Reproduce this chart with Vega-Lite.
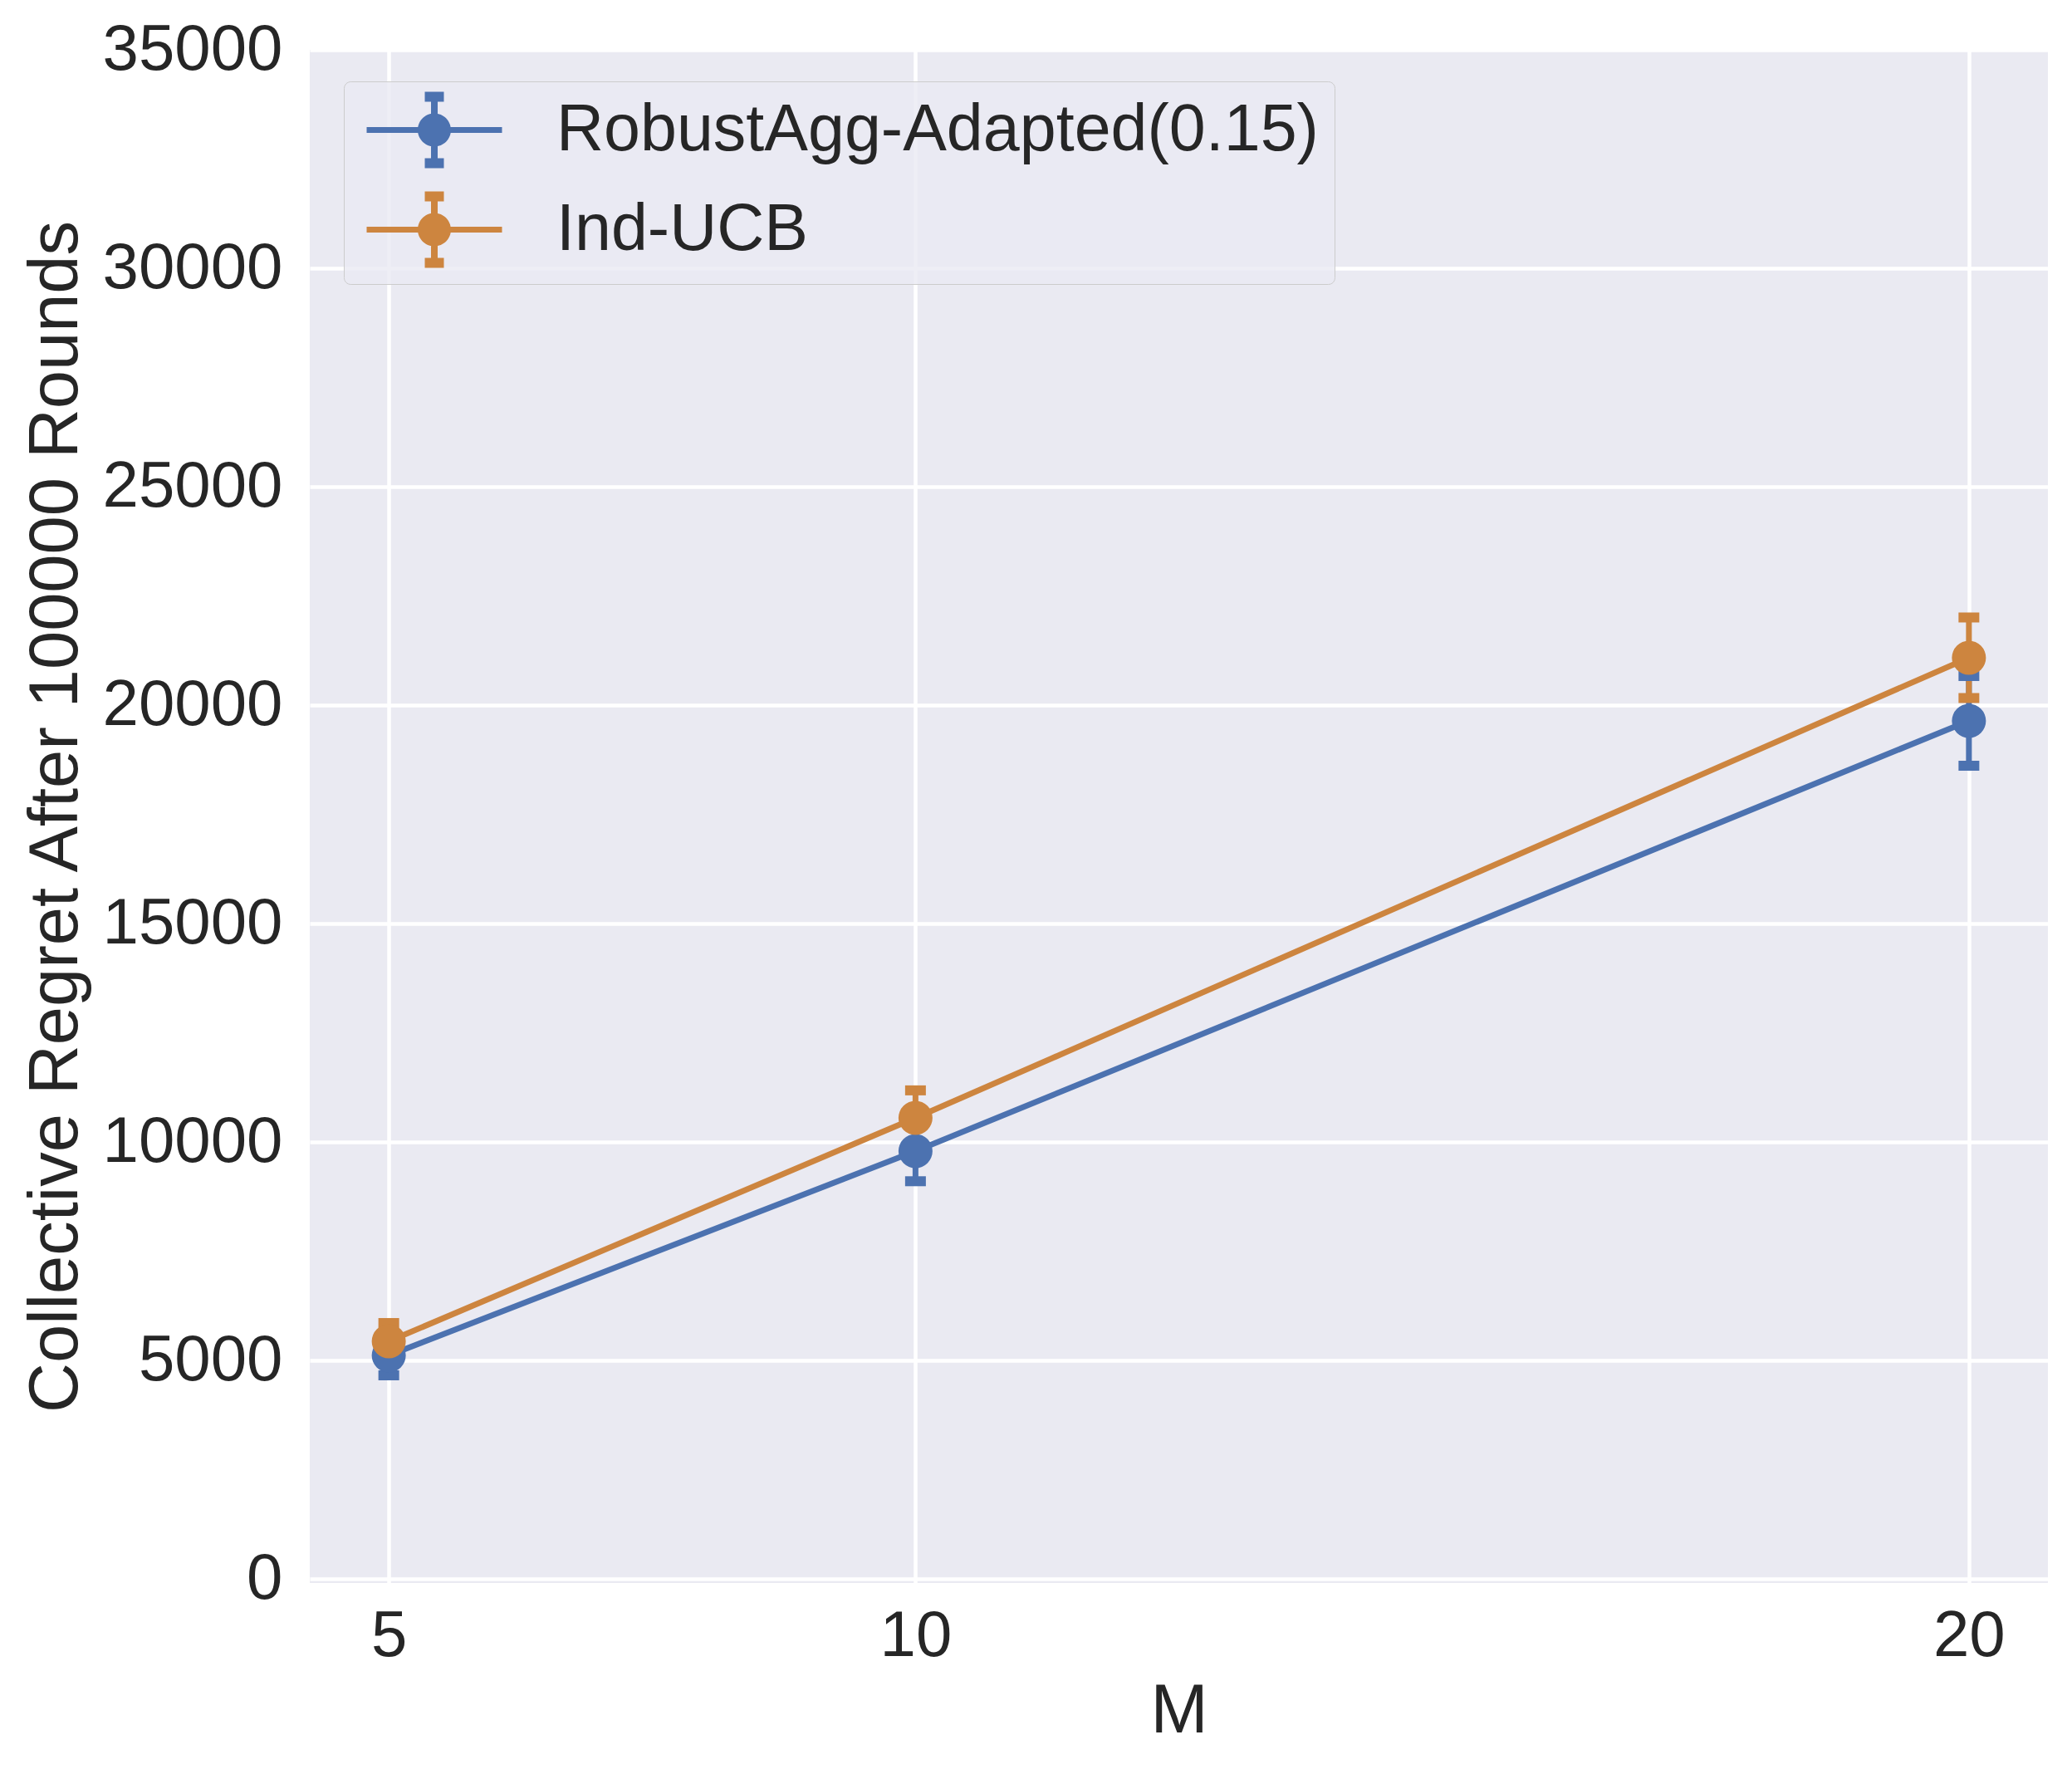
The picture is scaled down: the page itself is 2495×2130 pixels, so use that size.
{
  "$schema": "https://vega.github.io/schema/vega-lite/v6.json",
  "width": 2093,
  "height": 1846,
  "autosize": {"type": "none"},
  "padding": {"left": 373, "top": 60, "right": 29, "bottom": 224},
  "background": "#ffffff",
  "config": {
    "font": "Liberation Sans",
    "view": {"fill": "#eaeaf2", "stroke": null},
    "axis": {
      "domain": false,
      "ticks": false,
      "tickSize": 0,
      "grid": true,
      "gridColor": "#ffffff",
      "gridWidth": 4.5,
      "gridOpacity": 1,
      "labelFont": "Liberation Sans",
      "labelFontSize": 78,
      "labelColor": "#262626",
      "labelLimit": 2000,
      "titleFont": "Liberation Sans",
      "titleFontSize": 83,
      "titleFontWeight": "normal",
      "titleColor": "#262626",
      "titleLimit": 5000
    }
  },
  "data": {
    "values": [
      {"M": 5, "method": "RobustAgg-Adapted(0.15)", "regret": 5114, "lo": 4658, "hi": 5570},
      {"M": 10, "method": "RobustAgg-Adapted(0.15)", "regret": 9791, "lo": 9101, "hi": 10481},
      {"M": 20, "method": "RobustAgg-Adapted(0.15)", "regret": 19639, "lo": 18612, "hi": 20666},
      {"M": 5, "method": "Ind-UCB", "regret": 5437, "lo": 5019, "hi": 5855},
      {"M": 10, "method": "Ind-UCB", "regret": 10551, "lo": 9921, "hi": 11181},
      {"M": 20, "method": "Ind-UCB", "regret": 21084, "lo": 20162, "hi": 22006}
    ]
  },
  "encoding": {
    "x": {
      "field": "M",
      "type": "quantitative",
      "scale": {"domain": [4.25, 20.75], "nice": false, "zero": false},
      "axis": {"values": [5, 10, 20], "title": "M", "labelPadding": 25, "titlePadding": 10, "labelFlush": false}
    },
    "color": {
      "field": "method",
      "type": "nominal",
      "sort": ["RobustAgg-Adapted(0.15)", "Ind-UCB"],
      "scale": {"domain": ["RobustAgg-Adapted(0.15)", "Ind-UCB"], "range": ["#4c72b0", "#cd853f"]},
      "legend": {
        "title": null,
        "orient": "none",
        "legendX": 41,
        "legendY": 38,
        "fillColor": "rgba(234,234,242,0.8)",
        "strokeColor": "#cccccc",
        "cornerRadius": 8,
        "padding": 19,
        "rowPadding": 27,
        "labelFont": "Liberation Sans",
        "labelFontSize": 79,
        "labelColor": "#262626",
        "labelLimit": 3000,
        "labelOffset": 158,
        "symbolType": "M -0.9685 -0.109 H 4.125 V 0.109 H -0.9685 Z M 1.4535 -1.4375 H 1.7035 V 1.4375 H 1.4535 Z M 1.2195 -1.4375 H 1.9375 V -1.0625 H 1.2195 Z M 1.2195 1.0625 H 1.9375 V 1.4375 H 1.2195 Z M 0.9535 0 A 0.625 0.625 0 1 1 2.2035 0 A 0.625 0.625 0 1 1 0.9535 0 Z",
        "symbolSize": 4096,
        "symbolStrokeWidth": 0,
        "symbolOpacity": 1,
        "encode": {
          "symbols": {"update": {"fill": {"scale": "color", "field": "value"}, "opacity": {"value": 1}, "strokeWidth": {"value": 0}}}
        }
      }
    }
  },
  "layer": [
    {
      "mark": {"type": "rule", "strokeWidth": 7},
      "encoding": {
        "y": {"field": "lo", "type": "quantitative"},
        "y2": {"field": "hi"}
      }
    },
    {
      "mark": {"type": "point", "filled": true, "opacity": 1, "size": 625, "shape": "M -1 -0.48 H 1 V 0.48 H -1 Z", "strokeWidth": 0},
      "encoding": {
        "y": {"field": "lo", "type": "quantitative"}
      }
    },
    {
      "mark": {"type": "point", "filled": true, "opacity": 1, "size": 625, "shape": "M -1 -0.48 H 1 V 0.48 H -1 Z", "strokeWidth": 0},
      "encoding": {
        "y": {"field": "hi", "type": "quantitative"}
      }
    },
    {
      "mark": {"type": "line", "strokeWidth": 7},
      "encoding": {
        "y": {"field": "regret", "type": "quantitative"}
      }
    },
    {
      "mark": {"type": "point", "filled": true, "opacity": 1, "size": 1681, "shape": "circle", "strokeWidth": 0},
      "encoding": {
        "y": {
          "field": "regret",
          "type": "quantitative",
          "title": "Collective Regret After 100000 Rounds",
          "scale": {"domain": [-95, 35000], "nice": false, "zero": false},
          "axis": {"values": [0, 5000, 10000, 15000, 20000, 25000, 30000, 35000], "format": "d", "labelPadding": 33, "titleX": -281, "titleY": 923, "titleBaseline": "alphabetic", "titleAlign": "center", "titleAngle": 270}
        }
      }
    }
  ]
}
